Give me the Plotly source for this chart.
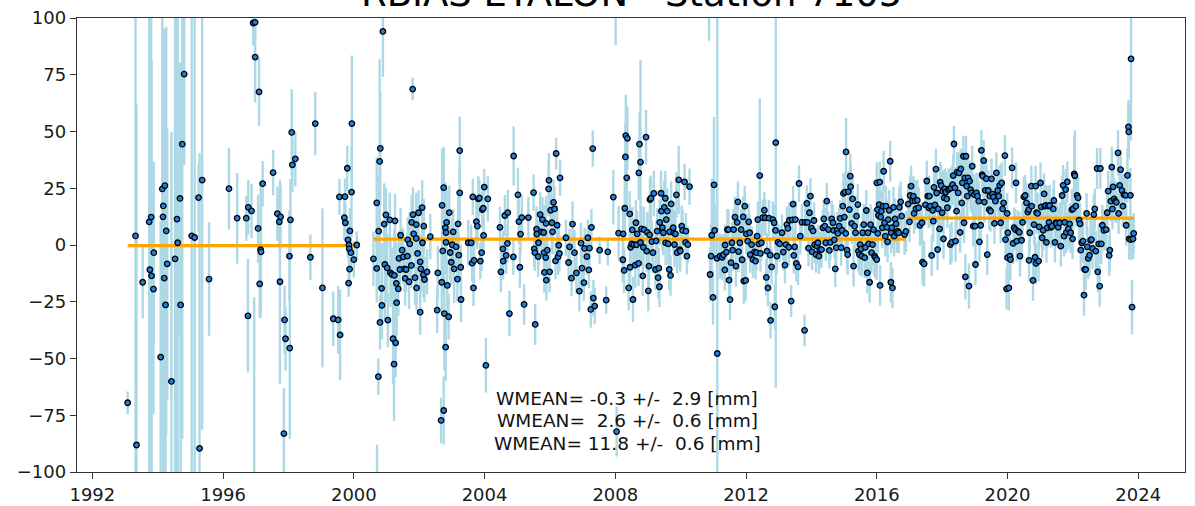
import plotly.graph_objects as go

# ---------------- data: (decimal year, bias [mm], sigma [mm]) ----------------
seg1 = [
    (1993.08, -69.5, 5), (1993.32, 4.0, 130), (1993.35, -88.1, 150), (1993.54, -16.4, 16),
    (1993.74, 10.2, 120), (1993.76, -10.9, 110), (1993.80, 12.3, 130), (1993.81, -13.6, 95),
    (1993.87, -19.4, 55), (1993.88, -3.4, 40), (1994.09, -49.4, 60), (1994.14, 24.7, 130),
    (1994.16, 12.4, 75), (1994.17, 17.2, 40), (1994.20, -14.6, 110), (1994.22, 26.2, 55),
    (1994.24, -26.4, 120), (1994.26, 6.2, 90), (1994.29, -8.3, 60), (1994.42, -60.1, 110),
    (1994.53, -6.1, 120), (1994.59, 11.4, 130), (1994.61, 1.0, 110), (1994.68, 20.5, 60),
    (1994.70, -26.4, 80), (1994.75, 44.4, 130), (1994.81, 75.3, 40), (1995.04, 4.0, 120),
    (1995.13, 3.3, 130), (1995.25, 20.9, 15), (1995.28, -89.6, 130), (1995.36, 28.6, 110),
    (1995.57, -15.0, 25), (1996.18, 24.8, 18), (1996.43, 11.8, 20), (1996.71, 11.8, 10),
    (1996.76, -31.2, 25), (1996.77, 16.6, 12), (1996.87, 15.0, 12), (1996.92, 97.8, 10),
    (1996.95, -110.0, 87), (1996.98, 98.1, 8), (1996.98, 82.8, 20), (1997.07, 7.3, 15),
    (1997.10, 67.5, 15), (1997.12, -17.1, 15), (1997.15, -2.1, 30), (1997.16, -3.0, 25),
    (1997.21, 27.0, 10), (1997.53, 31.9, 10), (1997.66, 13.8, 12), (1997.72, 10.2, 12),
    (1997.74, -16.2, 45), (1997.76, 12.4, 14), (1997.86, -83.1, 20), (1997.88, -33.0, 15),
    (1997.91, -41.3, 14), (1998.03, -4.9, 20), (1998.04, -45.4, 40), (1998.06, 11.1, 18),
    (1998.10, 49.6, 19), (1998.12, 35.3, 12), (1998.21, 37.9, 12), (1998.67, -5.4, 10),
    (1998.82, 53.5, 14), (1999.04, -18.9, 35), (1999.37, -32.5, 12), (1999.52, -33.0, 15),
    (1999.56, 21.2, 8), (1999.58, -39.6, 20), (1999.71, 12.0, 10), (1999.73, 21.3, 8),
    (1999.74, 9.8, 8), (1999.80, 33.8, 10), (1999.82, 2.3, 8), (1999.84, -16.8, 6),
    (1999.85, 0.0, 8), (1999.86, -1.7, 8), (1999.87, -10.6, 8), (1999.88, 6.2, 10),
    (1999.91, -3.4, 8), (1999.93, 23.3, 20), (1999.94, 53.5, 30), (2000.00, -6.4, 8),
    (2000.09, 0.0, 6),
]

seg2 = [
    (2000.60, -6.1, 12), (2000.70, -10.3, 15), (2000.70, 18.6, 20), (2000.71, -115.0, 27),
    (2000.75, -58.0, 8), (2000.76, 6.1, 25), (2000.79, 36.8, 45), (2000.81, 42.6, 25),
    (2000.80, -34.1, 12), (2000.85, -19.1, 20), (2000.86, -26.6, 15), (2000.89, 94.1, 20),
    (2000.93, 9.2, 18), (2000.95, -8.6, 25), (2000.98, 13.3, 12), (2001.02, -10.1, 15),
    (2001.04, -33.1, 12), (2001.10, 11.1, 12), (2001.12, -12.3, 15), (2001.17, -13.0, 12),
    (2001.20, -41.3, 20), (2001.23, -52.5, 25), (2001.24, -13.4, 20), (2001.26, 10.6, 12),
    (2001.28, -43.1, 15), (2001.30, -16.9, 18), (2001.31, -25.4, 15), (2001.36, -19.3, 12),
    (2001.38, -5.9, 12), (2001.41, -10.8, 10), (2001.43, 4.3, 12), (2001.48, -2.3, 10),
    (2001.51, -5.2, 12), (2001.55, -10.5, 10), (2001.57, -14.7, 12), (2001.60, -10.8, 10),
    (2001.64, -4.9, 10), (2001.65, 2.3, 10), (2001.69, -16.2, 12), (2001.71, 0.5, 14),
    (2001.76, -9.0, 10), (2001.77, 10.0, 12), (2001.80, 68.7, 5), (2001.81, 13.4, 12),
    (2001.83, 4.9, 10), (2001.87, -14.4, 12), (2001.91, 9.0, 14), (2001.91, 2.9, 12),
    (2001.92, -18.9, 10), (2001.95, -3.7, 12), (2001.98, 14.2, 10), (2002.03, -29.6, 10),
    (2002.03, -7.4, 12), (2002.05, -10.5, 10), (2002.09, 16.5, 12), (2002.10, 1.0, 10),
    (2002.13, -13.1, 10), (2002.14, 8.3, 12), (2002.16, -15.2, 10), (2002.24, -11.8, 10),
    (2002.34, 3.7, 10), (2002.55, -28.7, 10), (2002.57, -12.3, 12), (2002.67, -77.3, 10),
    (2002.69, -16.4, 14), (2002.70, 17.5, 25), (2002.72, -2.6, 20), (2002.75, 25.3, 18),
    (2002.75, -72.9, 15), (2002.77, -30.2, 25), (2002.80, 7.6, 20), (2002.81, -45.0, 15),
    (2002.82, 5.5, 12), (2002.82, 1.2, 14), (2002.84, 10.0, 15), (2002.86, -17.8, 12),
    (2002.90, -31.6, 10), (2002.92, 14.3, 12), (2002.95, -3.3, 12), (2002.98, -7.6, 10),
    (2003.01, 0.1, 12), (2003.04, 5.8, 10), (2003.07, -10.5, 15), (2003.13, -0.8, 10),
    (2003.17, -15.0, 10), (2003.19, 9.3, 12), (2003.21, -4.5, 10), (2003.24, 41.6, 15),
    (2003.24, 23.0, 12), (2003.27, -9.8, 10), (2003.28, -24.0, 10), (2003.50, 1.0, 10),
    (2003.59, 1.0, 8), (2003.62, -8.0, 8), (2003.64, 21.2, 8), (2003.66, -18.9, 8),
    (2003.68, -6.8, 10), (2003.75, 10.3, 10), (2003.78, 8.3, 10), (2003.81, 20.3, 10),
    (2003.84, 20.7, 8), (2003.87, -7.1, 8), (2003.91, -3.4, 8), (2003.93, 15.6, 8),
    (2003.96, 16.2, 8), (2003.97, 4.2, 8), (2003.99, 25.5, 8), (2004.04, -53.0, 12),
    (2004.10, 20.3, 10), (2004.47, 7.8, 9), (2004.50, -11.8, 9), (2004.56, -1.7, 8),
    (2004.57, -7.1, 8), (2004.62, 13.0, 9), (2004.66, -4.6, 8), (2004.70, 0.7, 8),
    (2004.71, 14.3, 10), (2004.76, -30.2, 10), (2004.88, -5.2, 8), (2004.89, 39.2, 13),
    (2005.02, 22.1, 12), (2005.05, 10.3, 10), (2005.08, -9.8, 9), (2005.10, 4.8, 9),
    (2005.14, 12.1, 10), (2005.21, -26.2, 9), (2005.34, 12.1, 9), (2005.50, 23.1, 8),
    (2005.52, -1.7, 8), (2005.54, -3.4, 8), (2005.55, -35.0, 9), (2005.59, 7.0, 10),
    (2005.60, 4.8, 10), (2005.64, -5.1, 9), (2005.65, 1.0, 10), (2005.70, 13.4, 10),
    (2005.74, 5.8, 10), (2005.77, 11.2, 10), (2005.81, 5.5, 12), (2005.82, -3.4, 12),
    (2005.83, -12.1, 9), (2005.87, -5.5, 10), (2005.88, 9.5, 12), (2005.89, -15.5, 9),
    (2005.92, -2.3, 10), (2005.96, 24.7, 12), (2005.97, 28.5, 12), (2005.99, -11.8, 9),
    (2006.02, 15.3, 12), (2006.06, 9.8, 12), (2006.08, 5.8, 10), (2006.11, 18.8, 10),
    (2006.14, 15.9, 10), (2006.17, -7.0, 8), (2006.19, 40.3, 7), (2006.22, 8.7, 9),
    (2006.25, -5.2, 8), (2006.27, -0.1, 8), (2006.29, -3.7, 8), (2006.31, 29.6, 8),
    (2006.49, 3.2, 8), (2006.57, -7.7, 8), (2006.60, -0.8, 8), (2006.66, -14.6, 8),
    (2006.69, 9.2, 10), (2006.75, -3.4, 10), (2006.81, -12.3, 9), (2006.90, -20.3, 9),
    (2006.95, 0.8, 9), (2006.98, -10.2, 9), (2007.04, -16.6, 8), (2007.06, -1.5, 9),
    (2007.13, -5.1, 8), (2007.16, 3.2, 8), (2007.19, -11.0, 8), (2007.21, -1.4, 8),
    (2007.25, -28.4, 8), (2007.27, 7.8, 8), (2007.31, 42.5, 8), (2007.33, -23.4, 8),
    (2007.37, -26.9, 8), (2007.52, -2.3, 6), (2007.72, -24.3, 6), (2007.77, -3.0, 6),
    (2007.94, 21.1, 12), (2008.01, 110.0, 22), (2008.04, -82.2, 11), (2008.10, 5.2, 12),
    (2008.23, -6.5, 10), (2008.24, 4.9, 12), (2008.27, -11.2, 10), (2008.29, 16.2, 14),
    (2008.31, 38.8, 15), (2008.32, 48.2, 18), (2008.35, 29.6, 15), (2008.37, 47.0, 14),
    (2008.41, -18.9, 10), (2008.44, 13.7, 10), (2008.45, -9.8, 10), (2008.47, -1.0, 10),
    (2008.50, 0.5, 10), (2008.52, 6.7, 10), (2008.54, -24.0, 10), (2008.57, 0.2, 10),
    (2008.61, -8.9, 10), (2008.63, 9.8, 10), (2008.65, 0.1, 10), (2008.67, 4.9, 10),
    (2008.71, -8.1, 10), (2008.72, 31.8, 12), (2008.74, 44.4, 14), (2008.77, 36.5, 45),
    (2008.77, 1.1, 10), (2008.80, 7.1, 10), (2008.84, -13.6, 9), (2008.86, -1.0, 9),
    (2008.88, 6.8, 10), (2008.94, 47.5, 12), (2008.96, -2.7, 9), (2008.98, 5.6, 9),
    (2009.01, -20.2, 9), (2009.03, -9.3, 9), (2009.05, 4.5, 9), (2009.06, 20.0, 10),
    (2009.09, 20.6, 10), (2009.12, 1.5, 9), (2009.15, -3.4, 9), (2009.18, 22.7, 10),
    (2009.23, -10.8, 9), (2009.25, 1.8, 9), (2009.28, 6.1, 10), (2009.31, -14.4, 9),
    (2009.33, -10.2, 9), (2009.35, -18.4, 9), (2009.36, 10.0, 10), (2009.40, 22.8, 10),
    (2009.41, 14.9, 10), (2009.44, 7.6, 10), (2009.47, 5.4, 10), (2009.50, 16.6, 12),
    (2009.53, 20.6, 12), (2009.54, 0.95, 10), (2009.56, 11.2, 10), (2009.59, 14.9, 10),
    (2009.62, 0.5, 9), (2009.65, -10.8, 9), (2009.66, 5.8, 9), (2009.69, -13.4, 9),
    (2009.71, 18.1, 10), (2009.77, 7.6, 10), (2009.79, 5.2, 10), (2009.81, 0.2, 10),
    (2009.84, 4.9, 10), (2009.87, 22.1, 10), (2009.89, -3.4, 9), (2009.94, 28.7, 15),
    (2009.97, -2.1, 9), (2009.99, -2.7, 9), (2010.03, 8.3, 9), (2010.06, 6.4, 9),
    (2010.12, 27.8, 8), (2010.15, 1.2, 8), (2010.16, 6.1, 8), (2010.19, -4.9, 8),
    (2010.22, 0.2, 8), (2010.27, 25.7, 8), (2010.87, 110.0, 20), (2010.90, -13.0, 12),
    (2010.93, -4.9, 14), (2010.95, 4.3, 25), (2010.99, -23.1, 12), (2011.02, 26.5, 30),
    (2011.04, 6.4, 12), (2011.11, -5.9, 10), (2011.12, -47.8, 160), (2011.20, -4.9, 10),
    (2011.27, -5.4, 10), (2011.31, -4.3, 9), (2011.35, -11.0, 9), (2011.36, 0.0, 9),
    (2011.40, -3.1, 9), (2011.43, 6.8, 9), (2011.46, 6.8, 9), (2011.48, -15.5, 9),
    (2011.51, -24.1, 9), (2011.54, -7.8, 9), (2011.57, 1.0, 9), (2011.59, -2.3, 9),
    (2011.62, 6.8, 9), (2011.66, 12.3, 9), (2011.69, -9.3, 9), (2011.73, 10.0, 9),
    (2011.75, 19.0, 9), (2011.77, -2.9, 9), (2011.81, 1.0, 9), (2011.85, 6.8, 9),
    (2011.88, -6.5, 9), (2011.91, 12.4, 9), (2011.93, -15.9, 10), (2011.96, 17.1, 9),
    (2011.99, -15.6, 9), (2012.01, 4.9, 9), (2012.05, 1.7, 8), (2012.08, 10.2, 8),
    (2012.11, 5.4, 8), (2012.13, -4.2, 8), (2012.17, 0.2, 8), (2012.21, -6.4, 8),
    (2012.26, -3.0, 8), (2012.29, -7.1, 8), (2012.32, -3.4, 8), (2012.34, 3.9, 8),
    (2012.36, 11.2, 8), (2012.39, 0.5, 8), (2012.42, 30.6, 34), (2012.44, -3.7, 8),
    (2012.47, 1.0, 8), (2012.51, 12.1, 8), (2012.56, 15.3, 8), (2012.59, 12.0, 8),
    (2012.62, -14.3, 8), (2012.64, -2.7, 8), (2012.67, -18.9, 8), (2012.70, 11.8, 8),
    (2012.74, -4.5, 8), (2012.75, -33.2, 8), (2012.78, -9.6, 8), (2012.82, 11.2, 8),
    (2012.86, 9.8, 8), (2012.88, -27.2, 10), (2012.90, 6.4, 8), (2012.91, 45.1, 108),
    (2012.94, -4.9, 8), (2012.98, 1.2, 8), (2013.03, 0.5, 8), (2013.10, 5.4, 8),
    (2013.14, -3.1, 8), (2013.19, -8.9, 8), (2013.22, 0.2, 8), (2013.25, 9.0, 8),
    (2013.28, 7.3, 8), (2013.31, -1.0, 8), (2013.33, 10.9, 8), (2013.38, -24.7, 7),
    (2013.42, 11.1, 8), (2013.44, 18.0, 8), (2013.46, -4.6, 8), (2013.49, -0.8, 8),
    (2013.51, 11.2, 8), (2013.54, -8.1, 8), (2013.59, -9.6, 8), (2013.62, 27.1, 8),
    (2013.66, 3.9, 8), (2013.71, 10.0, 8), (2013.79, -37.6, 7), (2013.81, 10.0, 8),
    (2013.86, 18.3, 8), (2013.88, 10.0, 8), (2013.91, -1.4, 8), (2013.94, 14.2, 8),
    (2013.97, 21.5, 8), (2014.00, 7.4, 8), (2014.02, -3.0, 8), (2014.05, 6.2, 8),
    (2014.08, 10.8, 8), (2014.10, 0.1, 8), (2014.14, -4.2, 8), (2014.17, -0.5, 8),
    (2014.20, 1.0, 8), (2014.23, -4.9, 8), (2014.26, -2.0, 8), (2014.31, -2.0, 8),
    (2014.35, 7.6, 8), (2014.38, 11.5, 8), (2014.41, 8.3, 8), (2014.44, 1.0, 8),
    (2014.47, 19.3, 8), (2014.52, 6.8, 8), (2014.55, -2.4, 8), (2014.58, 1.2, 8),
    (2014.62, 11.5, 8), (2014.66, 9.8, 8), (2014.68, 6.4, 8), (2014.70, 2.3, 8),
    (2014.73, -10.5, 8), (2014.76, -1.2, 8), (2014.79, 6.5, 8), (2014.81, 5.1, 8),
    (2014.85, 8.3, 8), (2014.88, 11.7, 8), (2014.91, -1.2, 8), (2014.94, 6.5, 8),
    (2014.96, 17.1, 8), (2014.98, 22.7, 9), (2015.01, 12.3, 9), (2015.03, 23.3, 9),
    (2015.05, 5.1, 9), (2015.06, 41.0, 15), (2015.09, -2.3, 9), (2015.11, -4.2, 9),
    (2015.13, 23.5, 9), (2015.16, 15.6, 9), (2015.19, 30.3, 10), (2015.20, 25.7, 10),
    (2015.23, 9.5, 9), (2015.26, 20.3, 9), (2015.29, -9.3, 9), (2015.32, 8.3, 9),
    (2015.35, 5.4, 9), (2015.38, 12.7, 9), (2015.42, 17.8, 9), (2015.44, -2.7, 9),
    (2015.47, -4.2, 9), (2015.49, 0.2, 9), (2015.52, -1.7, 9), (2015.54, -4.9, 9),
    (2015.57, 5.4, 9), (2015.60, 9.0, 9), (2015.63, -5.6, 9), (2015.65, -1.0, 9),
    (2015.68, 15.2, 9), (2015.71, -12.3, 9), (2015.73, 5.4, 9), (2015.75, 0.5, 9),
    (2015.78, -16.4, 9), (2015.81, 9.0, 9), (2015.84, -3.4, 9), (2015.87, 0.2, 9),
    (2015.90, 6.8, 9), (2015.93, -4.9, 9), (2015.96, -5.6, 9), (2016.00, 27.4, 9),
    (2016.00, -6.4, 9), (2016.02, 15.6, 9), (2016.03, 5.1, 9), (2016.05, 13.0, 9),
    (2016.07, 17.8, 9), (2016.09, 27.7, 9), (2016.10, -17.8, 9), (2016.12, 12.3, 9),
    (2016.14, 14.9, 9), (2016.17, 7.6, 9), (2016.19, 17.1, 9), (2016.21, 32.5, 9),
    (2016.24, 9.8, 9), (2016.26, 3.9, 9), (2016.28, 17.1, 9), (2016.31, 7.8, 9),
    (2016.33, 1.4, 9), (2016.35, 11.2, 9), (2016.38, 15.3, 9), (2016.41, 36.9, 9),
    (2016.43, -16.4, 9), (2016.44, 5.4, 9), (2016.46, 7.6, 9), (2016.48, -18.9, 9),
    (2016.51, 16.6, 9), (2016.53, 3.9, 9), (2016.56, 11.5, 9), (2016.59, 9.3, 9),
    (2016.61, 5.4, 9), (2016.64, 6.1, 9), (2016.67, 5.4, 9), (2016.69, 16.6, 9),
    (2016.73, 19.0, 9), (2016.76, 12.7, 9), (2016.85, 4.6, 9), (2016.89, 6.0, 9),
]

seg3 = [
    (2016.96, 18.0, 9), (2017.00, 10.2, 9), (2017.02, 21.8, 9), (2017.05, 25.9, 9),
    (2017.09, 19.4, 9), (2017.12, 21.5, 9), (2017.14, 13.9, 9), (2017.17, 19.4, 9),
    (2017.20, 16.0, 9), (2017.24, 19.7, 9), (2017.28, 16.4, 9), (2017.32, 8.7, 9),
    (2017.38, 9.8, 9), (2017.40, -7.6, 10), (2017.45, -8.3, 10), (2017.49, 17.7, 9),
    (2017.53, 28.2, 9), (2017.56, 21.5, 9), (2017.59, 16.4, 9), (2017.61, 21.5, 9),
    (2017.64, 17.1, 9), (2017.68, -4.6, 9), (2017.71, 15.3, 9), (2017.73, 10.5, 9),
    (2017.75, 25.4, 9), (2017.78, 17.7, 9), (2017.81, 33.4, 9), (2017.83, 22.9, 9),
    (2017.86, -2.0, 9), (2017.88, 15.9, 9), (2017.92, 7.1, 9), (2017.94, 27.7, 9),
    (2017.97, 26.2, 9), (2018.00, 14.2, 9), (2018.02, 23.7, 9), (2018.04, 2.7, 9),
    (2018.06, 20.8, 9), (2018.08, 24.7, 9), (2018.11, 23.3, 9), (2018.14, 20.3, 9),
    (2018.16, 16.4, 9), (2018.19, 24.4, 9), (2018.22, 24.7, 9), (2018.25, 0.2, 9),
    (2018.27, 25.2, 9), (2018.29, 1.2, 9), (2018.32, 26.6, 9), (2018.34, 30.6, 9),
    (2018.36, 44.5, 8), (2018.39, 25.2, 9), (2018.41, 1.7, 9), (2018.44, 14.9, 9),
    (2018.46, 32.1, 9), (2018.49, 23.0, 9), (2018.52, 31.8, 9), (2018.55, 5.6, 9),
    (2018.57, 33.5, 9), (2018.60, 18.6, 9), (2018.62, 27.4, 9), (2018.65, 39.1, 9),
    (2018.67, 9.8, 9), (2018.69, 29.6, 9), (2018.71, -14.0, 10), (2018.73, 39.1, 9),
    (2018.75, 25.9, 9), (2018.77, 21.5, 9), (2018.79, 29.6, 9), (2018.82, -18.1, 10),
    (2018.84, 28.1, 9), (2018.87, 24.4, 9), (2018.90, 23.0, 9), (2018.92, 34.7, 9),
    (2018.95, 8.3, 9), (2018.98, 22.2, 9), (2019.01, 8.3, 9), (2019.02, -8.6, 9),
    (2019.05, 23.0, 9), (2019.08, 21.5, 9), (2019.12, 19.3, 9), (2019.14, 1.4, 9),
    (2019.18, 8.7, 9), (2019.20, 41.7, 9), (2019.22, 31.0, 9), (2019.24, 30.3, 9),
    (2019.27, 37.2, 9), (2019.29, 18.9, 9), (2019.32, 24.1, 9), (2019.35, 29.2, 9),
    (2019.38, -4.2, 9), (2019.41, 24.0, 9), (2019.44, 15.6, 9), (2019.46, 21.5, 9),
    (2019.48, 14.9, 9), (2019.51, 29.1, 9), (2019.54, 22.4, 9), (2019.57, 21.1, 9),
    (2019.60, 9.5, 9), (2019.63, 19.3, 9), (2019.66, 31.8, 9), (2019.70, 24.0, 9),
    (2019.73, 21.5, 9), (2019.76, 26.3, 9), (2019.79, 9.8, 9), (2019.82, 27.4, 9),
    (2019.85, 15.9, 9), (2019.88, 18.6, 9), (2019.92, 39.4, 9), (2019.94, 2.4, 9),
    (2019.97, -19.3, 9), (2019.99, 13.9, 9), (2020.00, -5.6, 9), (2020.01, 5.4, 9),
    (2020.04, -18.9, 10), (2020.07, -4.9, 9), (2020.09, -6.4, 9), (2020.14, 34.0, 9),
    (2020.17, 0.7, 9), (2020.20, 7.6, 9), (2020.24, 6.8, 9), (2020.26, 27.4, 9),
    (2020.28, 1.7, 9), (2020.32, 6.1, 9), (2020.36, 5.6, 9), (2020.38, -4.9, 9),
    (2020.43, 2.1, 9), (2020.46, 10.0, 9), (2020.50, 21.2, 9), (2020.54, 21.8, 9),
    (2020.58, 18.6, 9), (2020.62, 14.5, 9), (2020.65, 15.6, 9), (2020.66, -6.8, 9),
    (2020.68, 5.4, 9), (2020.73, 25.9, 9), (2020.74, 17.1, 9), (2020.78, -15.6, 9),
    (2020.81, 9.0, 9), (2020.84, -5.4, 9), (2020.86, 25.9, 9), (2020.87, -8.1, 9),
    (2020.89, 14.2, 9), (2020.92, 13.9, 9), (2020.95, -7.1, 9), (2020.97, 8.0, 9),
    (2021.01, 27.4, 9), (2021.03, 16.8, 9), (2021.06, 3.2, 9), (2021.09, 6.5, 9),
    (2021.12, 22.5, 9), (2021.14, 17.1, 9), (2021.17, 17.4, 9), (2021.19, 1.2, 9),
    (2021.22, 7.6, 9), (2021.25, 17.1, 9), (2021.27, 10.0, 9), (2021.29, 17.4, 9),
    (2021.33, 7.8, 9), (2021.36, 8.3, 9), (2021.40, 15.9, 9), (2021.42, 19.6, 9),
    (2021.45, 1.2, 9), (2021.48, 9.8, 9), (2021.50, 9.5, 9), (2021.55, 7.8, 9),
    (2021.60, 9.8, 9), (2021.63, -0.5, 9), (2021.67, 21.8, 9), (2021.70, 26.3, 9),
    (2021.73, 3.9, 9), (2021.75, 10.0, 9), (2021.78, 24.4, 9), (2021.80, 5.6, 9),
    (2021.83, 27.8, 9), (2021.86, 7.1, 9), (2021.90, 9.3, 9), (2021.93, 5.4, 9),
    (2021.97, 15.6, 9), (2021.99, 2.7, 9), (2022.01, 16.0, 9), (2022.04, 31.3, 17),
    (2022.06, 30.5, 20), (2022.09, 17.1, 9), (2022.13, 21.8, 9), (2022.16, 20.8, 9),
    (2022.19, 10.9, 9), (2022.22, 9.3, 9), (2022.24, -2.3, 9), (2022.27, 1.0, 9),
    (2022.31, 1.7, 9), (2022.34, -22.1, 9), (2022.36, -10.8, 9), (2022.39, -10.8, 9),
    (2022.42, 13.9, 9), (2022.44, -0.8, 9), (2022.47, -5.9, 9), (2022.51, -4.5, 9),
    (2022.54, 2.1, 9), (2022.57, 2.4, 9), (2022.60, -1.5, 9), (2022.64, 13.4, 9),
    (2022.67, 15.9, 9), (2022.70, -2.7, 9), (2022.74, 33.7, 9), (2022.76, -11.8, 9),
    (2022.79, 0.5, 9), (2022.82, -18.1, 9), (2022.84, 33.7, 9), (2022.87, 0.5, 9),
    (2022.90, 8.7, 9), (2022.95, 6.5, 9), (2023.02, 6.8, 9), (2023.05, 14.2, 9),
    (2023.08, 23.7, 9), (2023.11, -4.6, 9), (2023.13, -2.3, 9), (2023.16, 19.3, 9),
    (2023.19, 34.3, 9), (2023.21, 15.9, 9), (2023.23, 25.6, 9), (2023.26, 20.3, 9),
    (2023.30, 19.3, 9), (2023.33, 18.8, 9), (2023.38, 40.6, 10), (2023.40, 13.9, 9),
    (2023.43, 26.3, 9), (2023.46, 33.2, 9), (2023.50, 24.1, 9), (2023.53, 17.1, 9),
    (2023.56, 22.2, 9), (2023.61, 21.9, 9), (2023.63, 8.7, 9), (2023.67, 30.7, 12),
    (2023.70, 52.0, 12), (2023.71, 49.8, 12), (2023.72, 2.7, 9), (2023.76, 21.9, 12),
    (2023.77, 2.4, 9), (2023.78, 82.0, 36), (2023.81, -27.4, 12), (2023.84, 2.7, 9),
    (2023.86, 5.1, 9),
]

wmean_values = [-0.3, 2.6, 11.8]
wmean_errors = [2.9, 0.6, 0.6]
title_text = "RBIAS ETALON - Station 7105"
x_ticks = [1992, 1996, 2000, 2004, 2008, 2012, 2016, 2020, 2024]
y_ticks = [-100, -75, -50, -25, 0, 25, 50, 75, 100]

# ---------------- figure ----------------
segments = [seg1, seg2, seg3]
all_rows = seg1 + seg2 + seg3
t_all = [r[0] for r in all_rows]
v_all = [r[1] for r in all_rows]
e_all = [r[2] for r in all_rows]

FONT = "DejaVu Sans"
fig = go.Figure()

# error bars (light blue, no caps)
fig.add_trace(go.Scatter(
    x=t_all, y=v_all, mode="markers",
    marker=dict(size=1, color="rgba(0,0,0,0)"),
    error_y=dict(type="data", array=e_all, visible=True, color="#add8e6",
                 thickness=2.4, width=0),
    hoverinfo="skip", showlegend=False, cliponaxis=True,
))

# weighted mean lines
for seg, wm in zip(segments, wmean_values):
    ts = [r[0] for r in seg]
    fig.add_trace(go.Scatter(
        x=[min(ts), max(ts)], y=[wm, wm], mode="lines",
        line=dict(color="#ffa500", width=3.2), showlegend=False, hoverinfo="skip",
    ))

# points
fig.add_trace(go.Scatter(
    x=t_all, y=v_all, mode="markers",
    marker=dict(size=5.5, color="#2080e0", line=dict(color="black", width=1.3)),
    showlegend=False,
))

# WMEAN text  (format "WMEAN=%5.1f +/- %4.1f [mm]")
NB = "\u00a0"
for i, (wm, we) in enumerate(zip(wmean_values, wmean_errors)):
    txt = ("WMEAN=" + f"{wm:5.1f}" + " +/- " + f"{we:4.1f}" + " [mm]").replace(" ", NB)
    fig.add_annotation(
        x=2008.36, y=[-67.7, -77.3, -87.5][i], xref="x", yref="y",
        text=txt, showarrow=False, xanchor="center", yanchor="middle",
        font=dict(family=FONT, size=18.5, color="#111111"),
    )

fig.add_annotation(
    x=0.5, y=1.0, xref="paper", yref="paper", yanchor="bottom", xanchor="center",
    yshift=1, text=title_text, showarrow=False,
    font=dict(family=FONT, size=37, color="black"),
)

fig.update_layout(
    width=1195, height=506,
    margin=dict(l=77, r=10, t=18, b=34, autoexpand=False),
    paper_bgcolor="white", plot_bgcolor="white",
    font=dict(family=FONT, size=18, color="black"),
    showlegend=False,
)
fig.update_xaxes(
    range=[1991.53, 2025.43], tickvals=x_ticks, ticktext=[str(v) for v in x_ticks],
    ticks="outside", ticklen=6, tickwidth=1.3, tickcolor="#333", automargin=False,
    showline=True, linecolor="#333", linewidth=1.4, mirror=True,
    showgrid=False, zeroline=False, tickfont=dict(size=18, color="#1a1a1a"),
)
fig.update_yaxes(
    range=[-100, 100], tickvals=y_ticks, automargin=False,
    ticktext=[(("\u2212" + str(abs(v))) if v < 0 else str(v)) for v in y_ticks],
    ticks="outside", ticklen=6, tickwidth=1.3, tickcolor="#333",
    showline=True, linecolor="#333", linewidth=1.4, mirror=True,
    showgrid=False, zeroline=False, tickfont=dict(size=18, color="#1a1a1a"),
)

fig.write_html("out.html")
